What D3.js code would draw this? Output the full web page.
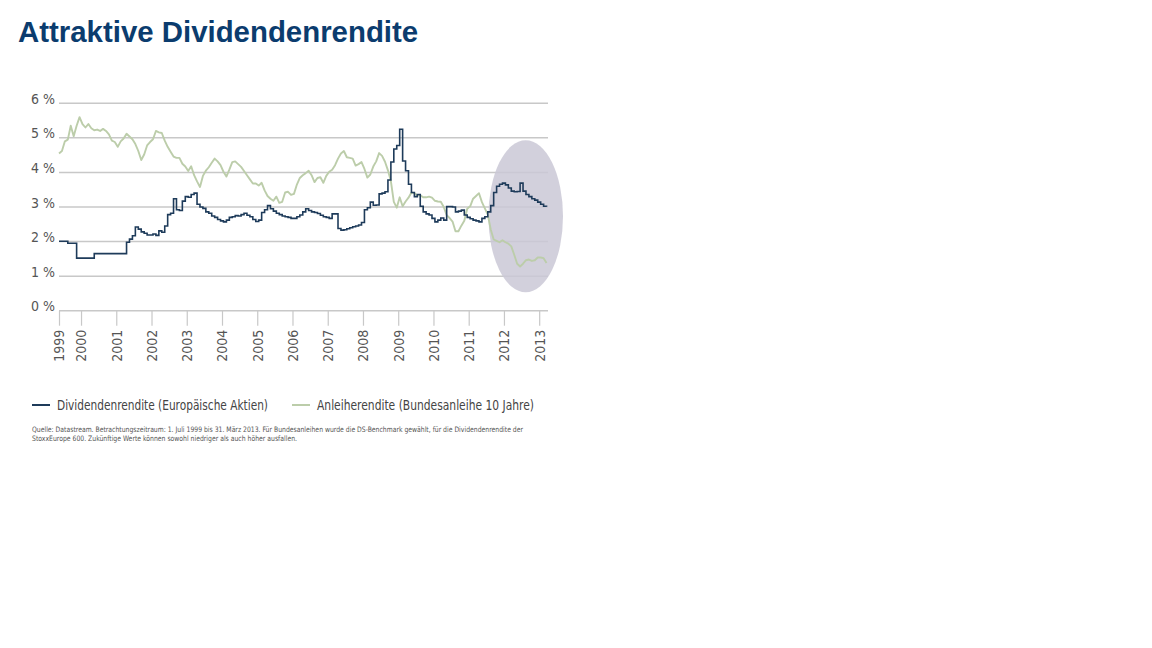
<!DOCTYPE html>
<html>
<head>
<meta charset="utf-8">
<script src="https://cdn.jsdelivr.net/npm/d3@7"></script>
<style>
  body { margin: 0; background: #fff; }
  svg { display: block; }
</style>
</head>
<body>
<div id="chart"></div>
<script>
// monthly series, first value at the left edge of the axis (mid 1999)
const START = 1999.375;
const END = 2013.25;

const bondYield = [
  4.55, 4.62, 4.90, 4.95, 5.35, 5.05, 5.35, 5.60, 5.40, 5.30, 5.40, 5.28,
  5.22, 5.24, 5.20, 5.26, 5.20, 5.10, 4.92, 4.88, 4.74, 4.90, 4.98, 5.12,
  5.04, 4.96, 4.82, 4.62, 4.36, 4.52, 4.78, 4.88, 4.96, 5.20, 5.16, 5.14,
  4.92, 4.74, 4.60, 4.46, 4.42, 4.42, 4.25, 4.17, 4.04, 4.18, 3.92, 3.74,
  3.58, 3.90, 4.05, 4.15, 4.28, 4.40, 4.32, 4.21, 4.02, 3.88, 4.08, 4.30,
  4.32, 4.24, 4.16, 4.04, 3.92, 3.80, 3.68, 3.68, 3.62, 3.70, 3.48, 3.32,
  3.24, 3.18, 3.30, 3.12, 3.15, 3.42, 3.44, 3.35, 3.38, 3.65, 3.84, 3.92,
  3.98, 4.05, 3.92, 3.72, 3.84, 3.86, 3.70, 3.90, 4.02, 4.08, 4.21, 4.40,
  4.55, 4.62, 4.44, 4.42, 4.40, 4.20, 4.24, 4.30, 4.10, 3.85, 3.94, 4.17,
  4.32, 4.56, 4.48, 4.31, 4.06, 3.75, 3.15, 2.98, 3.28, 3.02, 3.16, 3.27,
  3.42, 3.40, 3.34, 3.34, 3.28, 3.28, 3.30, 3.27, 3.18, 3.16, 3.15, 3.00,
  2.76, 2.68, 2.58, 2.30, 2.30, 2.46, 2.60, 2.95, 3.02, 3.24, 3.32, 3.40,
  3.14, 2.96, 2.78, 2.35, 2.06, 2.02, 1.98, 2.04, 1.98, 1.94, 1.86, 1.62,
  1.36, 1.28, 1.36, 1.46, 1.48, 1.44, 1.46, 1.54, 1.54, 1.52, 1.38
];

const dividendYield = [
  2.01, 2.01, 2.01, 1.95, 1.95, 1.95, 1.52, 1.52, 1.52, 1.52, 1.52, 1.52,
  1.65, 1.65, 1.65, 1.65, 1.65, 1.65, 1.65, 1.65, 1.65, 1.65, 1.65, 1.98,
  2.07, 2.17, 2.42, 2.36, 2.28, 2.24, 2.19, 2.19, 2.22, 2.18, 2.31, 2.27,
  2.45, 2.78, 2.82, 3.24, 2.92, 2.90, 3.17, 3.30, 3.28, 3.36, 3.40, 3.08,
  3.00, 2.96, 2.86, 2.82, 2.74, 2.70, 2.64, 2.60, 2.57, 2.62, 2.70, 2.72,
  2.75, 2.74, 2.78, 2.82, 2.76, 2.72, 2.64, 2.58, 2.62, 2.84, 2.92, 3.04,
  2.95, 2.88, 2.82, 2.78, 2.74, 2.72, 2.70, 2.67, 2.67, 2.72, 2.77, 2.86,
  2.95, 2.90, 2.86, 2.84, 2.81, 2.76, 2.72, 2.70, 2.67, 2.80, 2.80, 2.38,
  2.33, 2.34, 2.37, 2.40, 2.43, 2.45, 2.48, 2.55, 2.92, 2.98, 3.14, 3.05,
  3.06, 3.38, 3.40, 3.44, 3.78, 4.30, 4.68, 4.78, 5.25, 4.33, 4.05, 3.66,
  3.42, 3.30, 3.36, 3.02, 2.86, 2.80, 2.77, 2.67, 2.57, 2.62, 2.68, 2.62,
  3.01, 3.01, 3.00, 2.86, 2.88, 2.91, 2.77, 2.70, 2.66, 2.62, 2.60, 2.57,
  2.67, 2.72, 2.86, 3.04, 3.42, 3.60, 3.66, 3.69, 3.64, 3.55, 3.46, 3.44,
  3.45, 3.69, 3.46, 3.36, 3.30, 3.24, 3.20, 3.14, 3.08, 3.02, 3.01
];

const yTicks = [0, 1, 2, 3, 4, 5, 6];
const yTickLabels = ["0 %", "1 %", "2 %", "3 %", "4 %", "5 %", "6 %"];
const xTicks = [START, 2000, 2001, 2002, 2003, 2004, 2005, 2006, 2007, 2008, 2009, 2010, 2011, 2012, 2013];
const xTickLabels = ["1999", "2000", "2001", "2002", "2003", "2004", "2005", "2006", "2007", "2008", "2009", "2010", "2011", "2012", "2013"];

const seriesNames = ["Dividendenrendite (Europäische Aktien)", "Anleiherendite (Bundesanleihe 10 Jahre)"];
const titleText = "Attraktive Dividendenrendite";
const noteLines = [
  "Quelle: Datastream. Betrachtungszeitraum: 1. Juli 1999 bis 31. März 2013. Für Bundesanleihen wurde die DS-Benchmark gewählt, für die Dividendenrendite der",
  "StoxxEurope 600. Zukünftige Werte können sowohl niedriger als auch höher ausfallen."
];

const width = 1152, height = 648;
const navy = "#1e3b5a", green = "#bccdaa", grid = "#c8c8c8";
const condensed = "'Liberation Sans Narrow', 'DejaVu Sans Condensed', 'Open Sans', sans-serif";

const svg = d3.select("#chart").append("svg").attr("width", width).attr("height", height);

svg.append("text")
  .attr("x", 18).attr("y", 42)
  .attr("font-family", "'Liberation Sans', Arial, sans-serif")
  .attr("font-weight", "bold").attr("font-size", 29.4)
  .attr("fill", "#0b3c6e")
  .text(titleText);

const x = d3.scaleLinear().domain([START, END]).range([59, 548]);
const y = d3.scaleLinear().domain([0, 6]).range([310.7, 103.3]);
const months = dividendYield.map((d, i) => START + i / 12);

// gridlines
svg.append("g").selectAll("line").data(yTicks).enter().append("line")
  .attr("x1", x(START)).attr("x2", x(END))
  .attr("y1", d => y(d)).attr("y2", d => y(d))
  .attr("stroke", grid).attr("stroke-width", 1.5);

svg.append("g").selectAll("text").data(yTicks).enter().append("text")
  .attr("x", 55).attr("y", d => y(d) + 0.5)
  .attr("text-anchor", "end")
  .attr("font-family", condensed).attr("font-size", 14)
  .attr("fill", "#555")
  .text((d, i) => yTickLabels[i]);

// x axis
const xAxis = d3.axisBottom(x).tickValues(xTicks)
  .tickFormat((d, i) => xTickLabels[i]).tickSize(15).tickPadding(4);
const gx = svg.append("g").attr("transform", "translate(0," + y(0) + ")").call(xAxis);
gx.select(".domain").remove();
gx.selectAll(".tick line").attr("stroke", grid).attr("stroke-width", 1.2);
gx.selectAll(".tick text")
  .attr("font-family", condensed).attr("font-size", 14).attr("fill", "#555")
  .attr("transform", "rotate(-90)")
  .attr("text-anchor", "end")
  .attr("x", -19).attr("y", 0).attr("dy", "0.35em");

// highlight ellipse
svg.append("ellipse")
  .attr("cx", 525.7).attr("cy", y(2.73))
  .attr("rx", 37.3).attr("ry", 76)
  .attr("fill", "#cac8d6").attr("opacity", 0.85);

const line = d3.line().x((d, i) => x(months[i])).y(d => y(d));

svg.append("path").datum(bondYield)
  .attr("d", line)
  .attr("fill", "none").attr("stroke", green).attr("stroke-width", 1.9)
  .attr("stroke-linejoin", "round");

svg.append("path").datum(dividendYield)
  .attr("d", line.curve(d3.curveStepAfter))
  .attr("fill", "none").attr("stroke", navy).attr("stroke-width", 1.6);

// legend
const legend = svg.append("g");
[[32, navy, 57, 211], [292, green, 317, 217]].forEach((l, i) => {
  legend.append("line").attr("x1", l[0]).attr("x2", l[0] + 18)
    .attr("y1", 405).attr("y2", 405).attr("stroke", l[1]).attr("stroke-width", 2);
  legend.append("text").attr("x", l[2]).attr("y", 410)
    .attr("font-family", condensed).attr("font-size", 14).attr("fill", "#444")
    .attr("textLength", l[3]).attr("lengthAdjust", "spacingAndGlyphs")
    .text(seriesNames[i]);
});

svg.append("g").selectAll("text").data(noteLines).enter().append("text")
  .attr("x", 32).attr("y", (d, i) => 432 + i * 9)
  .attr("font-family", condensed).attr("font-size", 7.5).attr("fill", "#555")
  .attr("textLength", (d, i) => i === 0 ? 491 : 265)
  .attr("lengthAdjust", "spacingAndGlyphs")
  .text(d => d);
</script>
</body>
</html>
